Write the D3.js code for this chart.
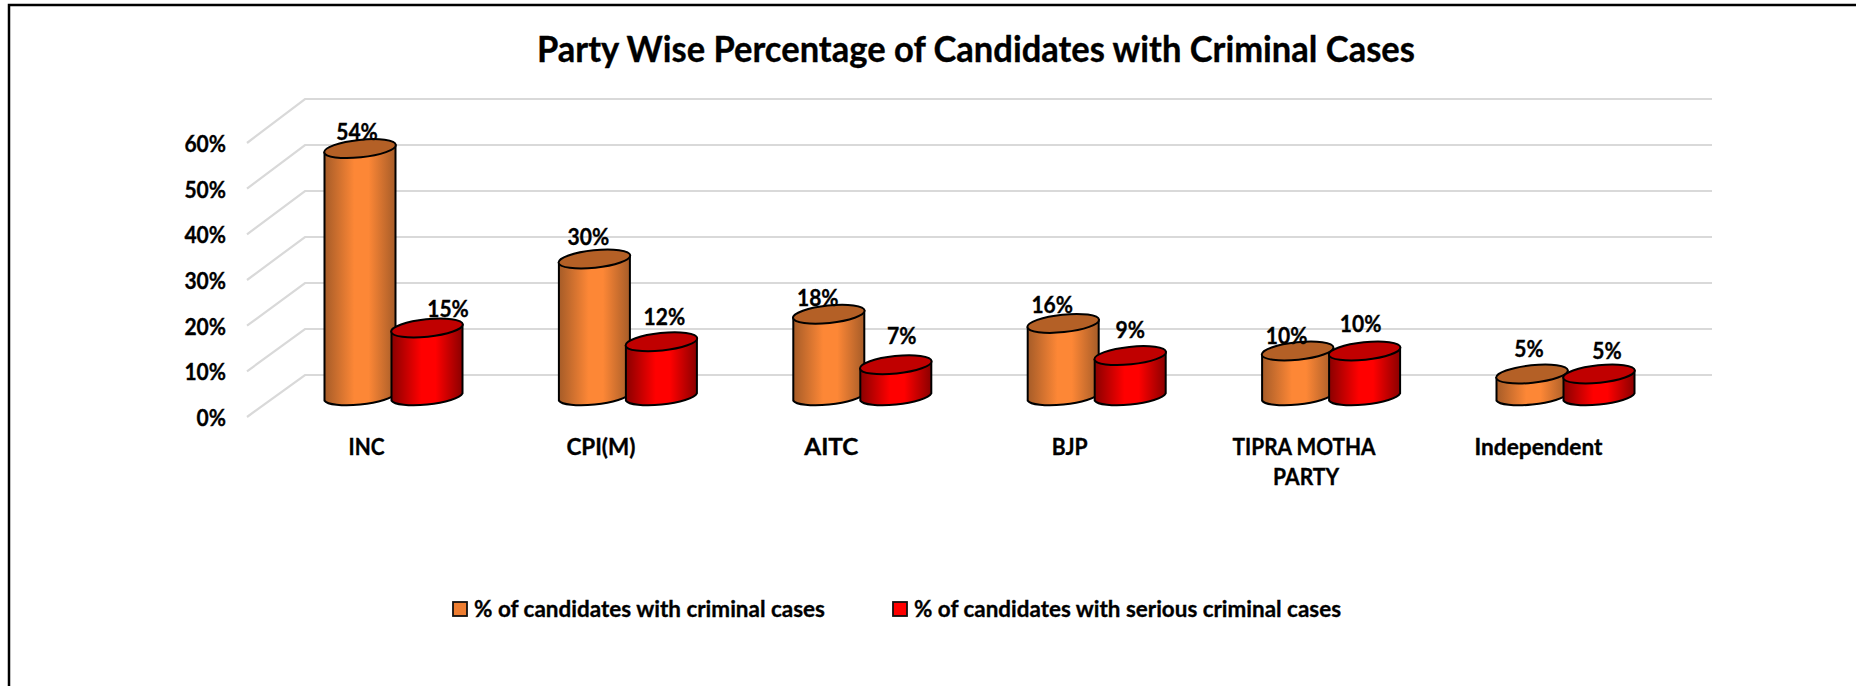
<!DOCTYPE html>
<html>
<head>
<meta charset="utf-8">
<title>Party Wise Percentage of Candidates with Criminal Cases</title>
<script src="https://cdn.jsdelivr.net/npm/d3@7"></script>
<style>
    html, body { margin: 0; padding: 0; background: #fff; }
    svg { display: block; }
    text { font-family: Lato, "Open Sans", sans-serif; font-weight: 700; fill: #000; stroke: #000; stroke-width: 0.35px; }
</style>
</head>
<body>
<div id="chart"></div>
<script>
const categories = ["INC", "CPI(M)", "AITC", "BJP", "TIPRA MOTHA\nPARTY", "Independent"];
const criminal = [54, 30, 18, 16, 10, 5];
const serious = [15, 12, 7, 9, 10, 5];
const yTicks = [0, 10, 20, 30, 40, 50, 60];
const seriesNames = ["% of candidates with criminal cases", "% of candidates with serious criminal cases"];

// the labels were dragged by hand in the original, so they do not sit at a fixed offset
const criminalNudge = [[-3, -17], [-6, -22], [-11, -17], [-11, -19], [-11, -15], [-3, -25]];
const seriousNudge = [[21, -19], [3, -25], [6, -29], [0, -26], [-4, -27], [8, -23]];

const width = 1856, height = 686;
const svg = d3.select("#chart").append("svg").attr("width", width).attr("height", height);

const series = [
    {name: seriesNames[0], values: criminal, nudge: criminalNudge, shift: -33, id: "grad-orange",
     edge: "#a65c28", mid: "#fd8736", top: "#b46026", swatch: "#ed7d31"},
    {name: seriesNames[1], values: serious, nudge: seriousNudge, shift: 34, id: "grad-red",
     edge: "#8a0000", mid: "#ff0000", top: "#c00000", swatch: "#ff0000"}
];

const defs = svg.append("defs");
series.forEach(s => {
    const g = defs.append("linearGradient").attr("id", s.id);
    g.append("stop").attr("offset", "0%").attr("stop-color", s.edge);
    g.append("stop").attr("offset", "42%").attr("stop-color", s.mid);
    g.append("stop").attr("offset", "62%").attr("stop-color", s.mid);
    g.append("stop").attr("offset", "100%").attr("stop-color", s.edge);
});

// Lato is wider than what the picture uses, so make it taller and keep the width it had at 21px
function tall(sel, size) {
    sel.each(function() {
        const len = this.getComputedTextLength();
        d3.select(this).attr("textLength", len).attr("lengthAdjust", "spacingAndGlyphs");
    }).attr("font-size", size);
}

// frame, only left and top are in the picture
svg.append("path").attr("d", "M9,686V5H1856").attr("fill", "none").attr("stroke", "#000").attr("stroke-width", 2.5);

svg.append("text").attr("x", 976).attr("y", 62)
    .attr("text-anchor", "middle")
    .attr("font-size", 36)
    .attr("textLength", 878).attr("lengthAdjust", "spacingAndGlyphs")
    .text("Party Wise Percentage of Candidates with Criminal Cases");

const x = d3.scalePoint().domain(categories).range([393, 1565]);
const yBar = d3.scaleLinear().domain([0, 60]).range([397, 121]);
const yBack = d3.scaleLinear().domain([0, 60]).range([375, 99]);
const yFront = d3.scaleLinear().domain([0, 60]).range([417, 143]);

const wallBack = 305, wallFront = 247, wallRight = 1712;

const grid = svg.append("g").attr("class", "grid").attr("fill", "none").attr("stroke", "#d9d9d9").attr("stroke-width", 2.2);
grid.selectAll("path").data(yTicks).join("path")
    .attr("d", d => `M${wallFront},${yFront(d)}L${wallBack},${yBack(d)}H${wallRight}`);

const yAxis = svg.append("g")
    .attr("transform", "translate(226,1)")
    .call(d3.axisLeft(yFront).tickValues(yTicks).tickFormat(d => d + "%").tickSize(0).tickPadding(0));
yAxis.select(".domain").remove();
yAxis.attr("font-family", null);
yAxis.selectAll("text").attr("font-size", 21);
tall(yAxis.selectAll("text"), 23.5);

// widths of the category labels as they measure in the picture, one per line
const categoryWidths = [[36], [69], [54], [36], [143, 66], [128]];

const xAxis = svg.append("g")
    .attr("transform", "translate(-27,0)")
    .call(d3.axisBottom(x).tickSize(0).tickPadding(0));
xAxis.select(".domain").remove();
xAxis.attr("font-family", null);
xAxis.selectAll("text").each(function(d, n) {
    const t = d3.select(this).text(null).attr("font-size", 23.5).attr("dy", null);
    d.split("\n").forEach((line, i) => {
        t.append("tspan")
            .attr("x", i ? 2 : (d === "AITC" ? -4 : 0))
            .attr("y", 455 + i * 30)
            .attr("textLength", categoryWidths[n][i]).attr("lengthAdjust", "spacingAndGlyphs")
            .text(line);
    });
});

// cylinder geometry, the ellipses lean a little like the excel 3d view
const rx = 36, ry = 8.75, tilt = -6, halfW = 35.5, lean = 3.6;

function side(cx, yTop, yBase) {
    return `M${cx - halfW},${yTop + lean}L${cx - halfW},${yBase + lean}`
        + `A${rx},${ry} ${tilt} 0 0 ${cx + halfW},${yBase - lean}`
        + `L${cx + halfW},${yTop - lean}`
        + `A${rx},${ry} ${tilt} 0 0 ${cx - halfW},${yTop + lean}Z`;
}

const bars = svg.append("g").attr("class", "bars");
categories.forEach((cat, i) => {
    series.forEach(s => {
        const cx = x(cat) + s.shift, yTop = yBar(s.values[i]);
        const g = bars.append("g");
        g.append("path").attr("d", side(cx, yTop, yBar(0)))
            .attr("fill", `url(#${s.id})`).attr("stroke", "#000").attr("stroke-width", 2);
        g.append("ellipse").attr("rx", rx).attr("ry", ry)
            .attr("transform", `translate(${cx},${yTop}) rotate(${tilt})`)
            .attr("fill", s.top).attr("stroke", "#000").attr("stroke-width", 2);
    });
});

// labels go last, a few of them touch the bar tops
series.forEach(s => {
    const labels = svg.append("g").selectAll("text").data(s.values).join("text")
        .attr("x", (d, i) => x(categories[i]) + s.shift + s.nudge[i][0])
        .attr("y", (d, i) => yBar(d) + s.nudge[i][1])
        .attr("dy", "0.36em")
        .attr("text-anchor", "middle")
        .attr("font-size", 21)
        .text(d => d + "%");
    tall(labels, 23.5);
});

const legend = svg.append("g").attr("class", "legend");
const legendX = [453, 893];
const legendEnd = [825, 1341];
series.forEach((s, i) => {
    legend.append("rect").attr("x", legendX[i]).attr("y", 602).attr("width", 14).attr("height", 14)
        .attr("fill", s.swatch).attr("stroke", "#111").attr("stroke-width", 1.8);
    legend.append("text").attr("x", legendX[i] + 21).attr("y", 617)
        .attr("font-size", 23.5)
        .attr("textLength", legendEnd[i] - legendX[i] - 21).attr("lengthAdjust", "spacingAndGlyphs")
        .text(s.name);
});
</script>
</body>
</html>
